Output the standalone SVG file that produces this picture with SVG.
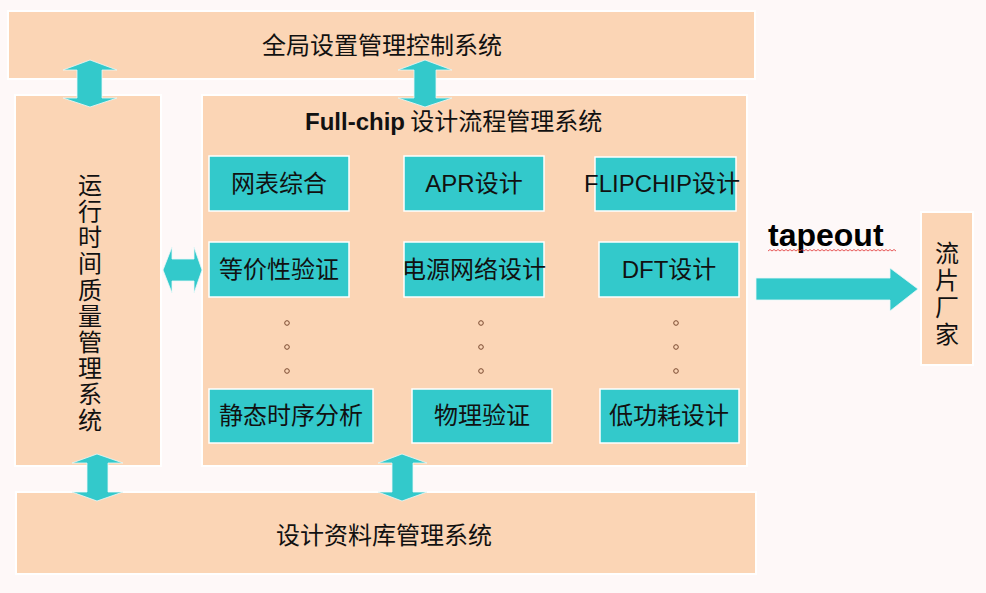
<svg xmlns="http://www.w3.org/2000/svg" width="986" height="593" viewBox="0 0 986 593">
<style>
.panel{fill:#FBD5B5;stroke:#FFFFFF;stroke-width:2}
.teal{fill:#33C9CB;stroke:#FFFFFF;stroke-width:1.5}
.arrow{fill:#33C9CB;stroke:#E8F8F8;stroke-width:0.8}
.cjk{font-family:"Noto Sans CJK SC","Liberation Sans",sans-serif;font-size:24px;fill:#111111}
.vert{writing-mode:vertical-rl;text-orientation:upright}
.lbl{font-family:"Liberation Sans","Noto Sans CJK SC",sans-serif;font-size:24px;fill:#111111;text-anchor:middle}
.dot{fill:none;stroke:#7A4A30;stroke-width:1}
</style>
<rect width="986" height="593" fill="#FEF8F8"/>
<g id="global-ctrl">
<rect class="panel" x="8" y="11" width="747" height="68"/>
<text class="cjk" x="382" y="54" text-anchor="middle">全局设置管理控制系统</text>
</g>
<g id="runtime-quality">
<rect class="panel" x="15" y="95" width="146" height="371"/>
<text class="cjk vert" x="90" y="173" letter-spacing="2.1">运行时间质量管理系统</text>
</g>
<g id="fullchip-flow">
<rect class="panel" x="202" y="95" width="545" height="371"/>
<text x="305" y="130" font-family="Liberation Sans,Noto Sans CJK SC,sans-serif" font-size="24" fill="#111111"><tspan font-weight="bold">Full-chip</tspan><tspan font-family="Noto Sans CJK SC,sans-serif"> 设计流程管理系统</tspan></text>
</g>
<g id="netlist">
<rect class="teal" x="209" y="156" width="140" height="55"/>
<text class="lbl" x="279" y="192">网表综合</text>
</g>
<g id="apr">
<rect class="teal" x="404" y="156" width="140" height="55"/>
<text class="lbl" x="474" y="192">APR设计</text>
</g>
<g id="flipchip">
<rect class="teal" x="595" y="157" width="141" height="54"/>
<text class="lbl" x="662" y="192">FLIPCHIP设计</text>
</g>
<g id="equiv">
<rect class="teal" x="209" y="242" width="140" height="55"/>
<text class="lbl" x="279" y="278">等价性验证</text>
</g>
<g id="power-grid">
<rect class="teal" x="404" y="242" width="140" height="55"/>
<text class="lbl" x="474" y="278">电源网络设计</text>
</g>
<g id="dft">
<rect class="teal" x="599" y="242" width="140" height="55"/>
<text class="lbl" x="669" y="278">DFT设计</text>
</g>
<g id="sta">
<rect class="teal" x="209" y="389" width="164" height="54"/>
<text class="lbl" x="291" y="424">静态时序分析</text>
</g>
<g id="physical">
<rect class="teal" x="412" y="389" width="140" height="54"/>
<text class="lbl" x="482" y="424">物理验证</text>
</g>
<g id="lowpower">
<rect class="teal" x="600" y="389" width="139" height="54"/>
<text class="lbl" x="669" y="424">低功耗设计</text>
</g>
<g id="dots">
<circle class="dot" cx="287" cy="323" r="2.3"/><circle class="dot" cx="287" cy="347" r="2.3"/><circle class="dot" cx="287" cy="371" r="2.3"/>
<circle class="dot" cx="481" cy="323" r="2.3"/><circle class="dot" cx="481" cy="347" r="2.3"/><circle class="dot" cx="481" cy="371" r="2.3"/>
<circle class="dot" cx="676" cy="323" r="2.3"/><circle class="dot" cx="676" cy="347" r="2.3"/><circle class="dot" cx="676" cy="371" r="2.3"/>
</g>
<g id="database">
<rect class="panel" x="16" y="492" width="740" height="82"/>
<text class="cjk" x="384" y="544" text-anchor="middle">设计资料库管理系统</text>
</g>
<g id="foundry">
<rect class="panel" x="921" y="212" width="52" height="153"/>
<text class="cjk vert" x="947" y="241" letter-spacing="3">流片厂家</text>
</g>
<g id="connectors">
<polygon class="arrow" points="90,60 117,70 102,70 102,98 117,98 90,107 63,98 77,98 77,70 63,70"/>
<polygon class="arrow" points="425,60 452,70 436,70 436,98 452,98 425,107 398,98 414,98 414,70 398,70"/>
<polygon class="arrow" points="163,270 172,247 172,259 194,259 194,247 202,270 194,293 194,281 172,281 172,293"/>
<polygon class="arrow" points="97,454 123,463 108,463 108,492 123,492 97,501 72,492 87,492 87,463 72,463"/>
<polygon class="arrow" points="402,454 427,463 413,463 413,492 427,492 402,501 378,492 392,492 392,463 378,463"/>
<polygon class="arrow" points="756,278 890,278 890,268 918,289 890,311 890,300 756,300"/>
<text x="768" y="246" font-family="Liberation Sans,sans-serif" font-size="32" font-weight="bold" fill="#000000">tapeout</text>
<path d="M768,251 l2,-1.5 l2,1.5 l2,-1.5 l2,1.5 l2,-1.5 l2,1.5 l2,-1.5 l2,1.5 l2,-1.5 l2,1.5 l2,-1.5 l2,1.5 l2,-1.5 l2,1.5 l2,-1.5 l2,1.5 l2,-1.5 l2,1.5 l2,-1.5 l2,1.5 l2,-1.5 l2,1.5 l2,-1.5 l2,1.5 l2,-1.5 l2,1.5 l2,-1.5 l2,1.5 l2,-1.5 l2,1.5 l2,-1.5 l2,1.5 l2,-1.5 l2,1.5 l2,-1.5 l2,1.5 l2,-1.5 l2,1.5 l2,-1.5 l2,1.5 l2,-1.5 l2,1.5 l2,-1.5 l2,1.5 l2,-1.5 l2,1.5 l2,-1.5 l2,1.5 l2,-1.5 l2,1.5 l2,-1.5 l2,1.5 l2,-1.5 l2,1.5 l2,-1.5 l2,1.5 l2,-1.5 l2,1.5 l2,-1.5 l2,1.5 l2,-1.5 l2,1.5 l2,-1.5 l2,1.5" fill="none" stroke="#E03030" stroke-width="0.8"/>
</g>
</svg>
